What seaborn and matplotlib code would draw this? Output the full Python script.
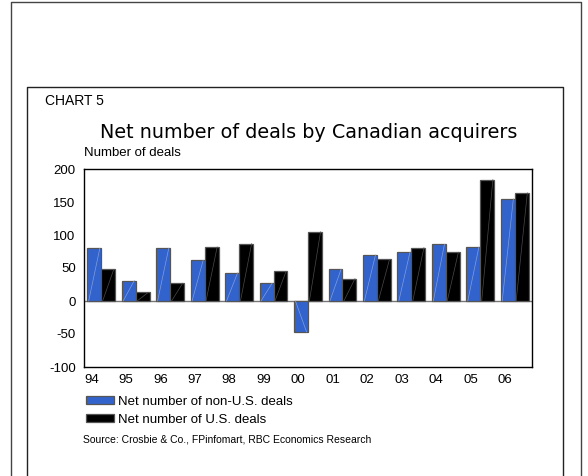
import matplotlib
matplotlib.use("Agg")
import matplotlib.pyplot as plt
from matplotlib.lines import Line2D
import numpy as np
import pandas as pd
import seaborn as sns

# Net number of deals by Canadian acquirers, 1994-2006
years = ["94", "95", "96", "97", "98", "99", "00", "01", "02", "03", "04", "05", "06"]
non_us_deals = [80, 31, 80, 62, 43, 27, -47, 48, 70, 74, 86, 82, 155]
us_deals = [48, 13, 27, 82, 87, 45, 105, 34, 63, 81, 74, 184, 164]
series_names = ["Net number of non-U.S. deals", "Net number of U.S. deals"]
y_ticks = [-100, -50, 0, 50, 100, 150, 200]

BLUE = "#3263cc"
BLACK = "#000000"

df = pd.DataFrame({
    "year": years * 2,
    "deals": non_us_deals + us_deals,
    "series": [series_names[0]] * len(years) + [series_names[1]] * len(years),
})

sns.set_theme(style="white")
plt.rcParams["font.family"] = ["Liberation Sans", "DejaVu Sans"]
plt.rcParams["text.color"] = "black"
plt.rcParams["xtick.color"] = "black"
plt.rcParams["ytick.color"] = "black"

fig = plt.figure(figsize=(5.88, 4.76), dpi=100)
ax = fig.add_axes([84 / 588, 1 - 367 / 476, 448 / 588, 198 / 476])

sns.barplot(
    data=df, x="year", y="deals", hue="series", order=years,
    hue_order=series_names, palette=[BLUE, BLACK], width=0.81,
    edgecolor="#555555", linewidth=0.9, saturation=1, ax=ax, legend=True,
)

# faint diagonal stroke inside each bar
for patch in ax.patches:
    w = patch.get_width()
    h = patch.get_height()
    if w == 0 or h == 0:
        continue
    x0, y0 = patch.get_x(), patch.get_y()
    fc = patch.get_facecolor()
    col = "#7f9ee0" if fc[2] > 0.5 else "#4a4a4a"
    ax.add_line(Line2D([x0 + w * 0.1, x0 + w * 0.9], [y0, y0 + h],
                       color=col, lw=0.5, zorder=patch.get_zorder() + 0.1))

ax.axhline(0, color="#777777", lw=1.0, zorder=0.5)
ax.set_xlim(-0.5, len(years) - 0.5)
ax.set_ylim(-100, 200)
ax.set_yticks(y_ticks)
ax.set_yticklabels([str(v) for v in y_ticks])
ax.set_xticks(np.arange(len(years)) - 0.5)
ax.set_xticklabels(years, ha="left")
ax.set_xlabel("")
ax.set_ylabel("")
ax.tick_params(axis="both", direction="out", length=4, width=1, color="black",
               labelsize=9.5, labelcolor="black", pad=2)
ax.tick_params(axis="x", pad=1)
for side in ["left", "bottom", "top", "right"]:
    ax.spines[side].set_visible(True)
    ax.spines[side].set_color("black")
    ax.spines[side].set_linewidth(1.0)

# legend below the plot
handles, labels = ax.get_legend_handles_labels()
ax.get_legend().remove()
fig.legend(handles, labels, loc="upper left", bbox_to_anchor=(86 / 588, 1 - 396 / 476),
           frameon=False, fontsize=9.5, handlelength=2.1, handleheight=0.55,
           handletextpad=0.35, labelspacing=0.45, borderaxespad=0, borderpad=0,
           labelcolor="black")

# texts
fig.text(45 / 588, 1 - 101 / 476, "CHART 5", fontsize=10, ha="left", va="center")
fig.text(309 / 588, 1 - 132 / 476, "Net number of deals by Canadian acquirers",
         fontsize=13.8, ha="center", va="center", family=["DejaVu Sans"])
fig.text(84 / 588, 1 - 153 / 476, "Number of deals", fontsize=9.5, ha="left", va="center")
fig.text(83 / 588, 1 - 439 / 476, "Source: Crosbie & Co., FPinfomart, RBC Economics Research",
         fontsize=7.5, ha="left", va="center")

# outer and inner frames (open at the bottom)
def frame(x0, x1, ytop, lw, color):
    fx0, fx1, fy = x0 / 588, x1 / 588, 1 - ytop / 476
    fig.add_artist(Line2D([fx0, fx0, fx1, fx1], [0, fy, fy, 0],
                          transform=fig.transFigure, color=color, lw=lw))

frame(11, 581, 1.5, 1.0, "#444444")
frame(27, 563, 86.5, 1.0, "#222222")

fig.savefig("out.png", dpi=100)
